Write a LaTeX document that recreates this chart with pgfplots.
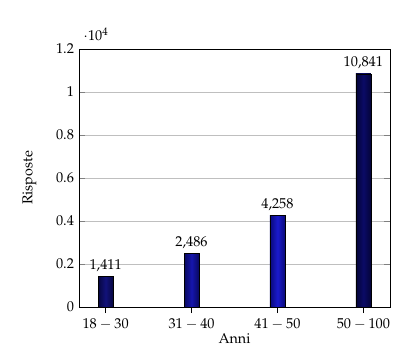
\documentclass[border=0pt]{standalone}
\usepackage[T1]{fontenc}
\usepackage{mathpazo}
\usepackage{pgfplots}
\pgfplotsset{compat=1.18}
\definecolor{eA}{HTML}{06063F}
\definecolor{mA}{HTML}{12127A}
\definecolor{eB}{HTML}{08085E}
\definecolor{mB}{HTML}{1616AE}
\definecolor{eC}{HTML}{0A0A7A}
\definecolor{mC}{HTML}{1A1ACC}
\definecolor{eD}{HTML}{040438}
\definecolor{mD}{HTML}{0A0A66}
\begin{document}
\begin{tikzpicture}
\path (-55.3pt,-33.6pt) rectangle (238pt,214.9pt);
\begin{axis}[
  scale only axis,
  width=217.7pt, height=180.6pt,
  xmin=-0.31, xmax=3.31,
  ymin=0, ymax=12000,
  ytick={0,2000,4000,6000,8000,10000,12000},
  xtick={0,1,2,3},
  xticklabels={$18-30$,$31-40$,$41-50$,$50-100$},
  x tick style={black},
  xtick pos=bottom,
  xtick align=outside,
  ymajorgrids,
  grid style={gray!50},
  xlabel={Anni},
  ylabel={Risposte},
  xlabel style={yshift=4pt},
  ylabel style={yshift=7pt},
  nodes near coords,
  every node near coord/.append style={black, font=\normalsize},
  axis line style={black},
]
\addplot[ybar, bar width=10.5pt, bar shift=0pt, draw=black, left color=eA, right color=eA, middle color=mA] coordinates {(0,1411)};
\addplot[ybar, bar width=10.5pt, bar shift=0pt, draw=black, left color=eB, right color=eB, middle color=mB] coordinates {(1,2486)};
\addplot[ybar, bar width=10.5pt, bar shift=0pt, draw=black, left color=eC, right color=eC, middle color=mC] coordinates {(2,4258)};
\addplot[ybar, bar width=10.5pt, bar shift=0pt, draw=black, left color=eD, right color=eD, middle color=mD] coordinates {(3,10841)};
\end{axis}
\end{tikzpicture}
\end{document}
